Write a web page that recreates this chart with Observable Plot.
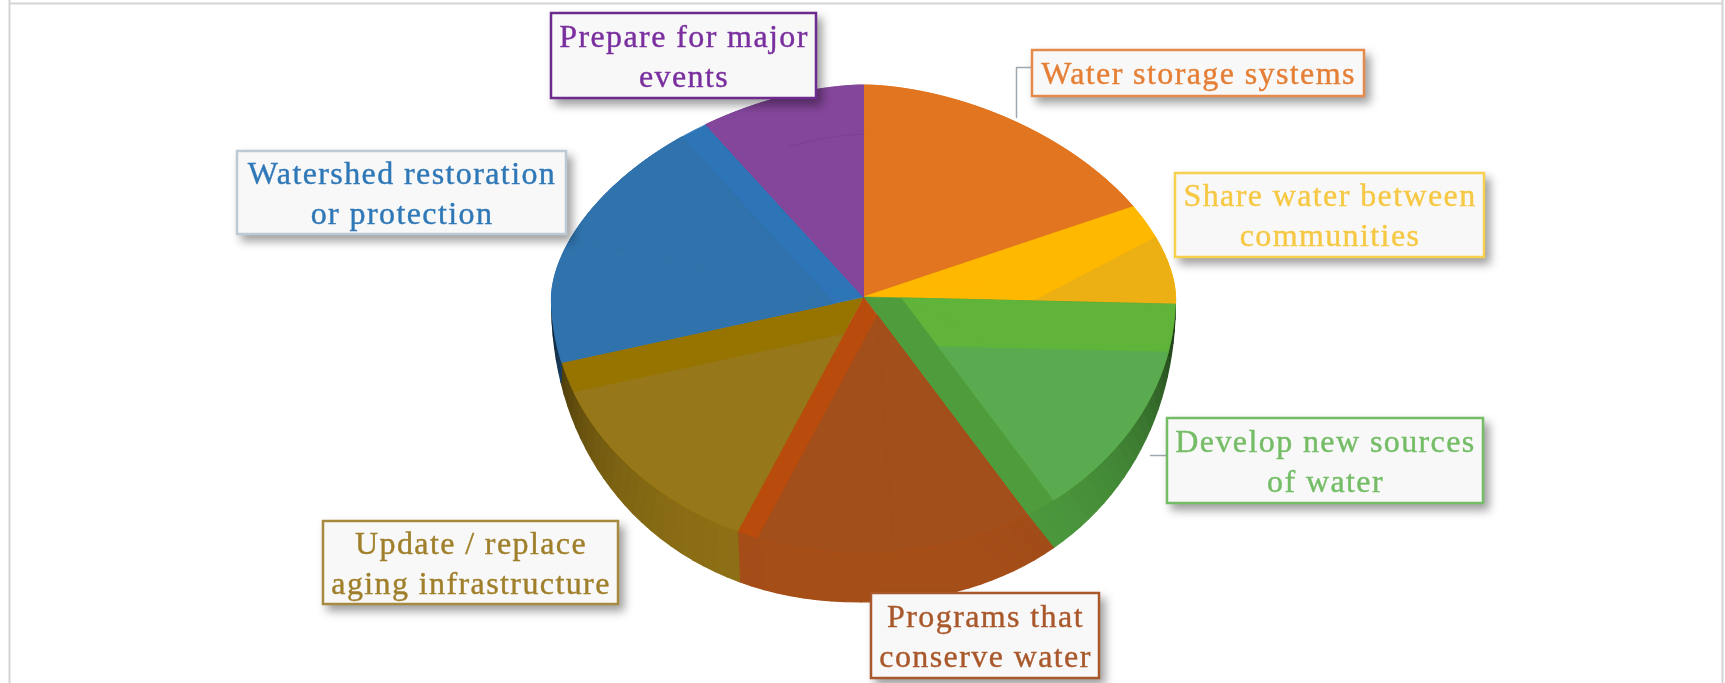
<!DOCTYPE html>
<html>
<head>
<meta charset="utf-8">
<script src="https://cdn.jsdelivr.net/npm/d3@7"></script>
<script src="https://cdn.jsdelivr.net/npm/@observablehq/plot@0.6"></script>
<style>
html,body{margin:0;padding:0;background:#fff;overflow:hidden}
svg{display:block}
svg text{letter-spacing:1.4px}
</style>
</head>
<body>
<div id="chart"></div>
<script>
// ---- data (share of the pie, clockwise from 12 o'clock)
const categories = [
  "Water storage systems",
  "Share water between\ncommunities",
  "Develop new sources\nof water",
  "Programs that\nconserve water",
  "Update / replace\naging infrastructure",
  "Watershed restoration\nor protection",
  "Prepare for major\nevents"
];
const shares = [17.14, 8.31, 15.75, 15.42, 14.28, 19.83, 9.28];

// ---- colours
const endBandColors = ["#e2751f", "#ffb800", "#4f9c3c", "#b94c0c", "#977400", "#2e75b8", "#7f4a98"];
const bandColors    = ["#e2751f", "#ffb800", "#60b43a", "#b94c0c", "#977400", "#2e75b8", "#7f4a98"];
const innerColors   = ["#e2751f", "#ecb014", "#5aab50", "#a34f1b", "#96781a", "#3072ab", "#84469a"];
const sideColors    = ["#e2751f", "#ecb014", "#4d9c3e", "#a64e18", "#8f7115", "#3072ab", "#84469a"];
const textColors    = ["#e57f35", "#f6c844", "#74bd66", "#a9582b", "#a07f2a", "#2f78b8", "#7a2f9f"];
const boxStrokes    = ["#e58a4a", "#f8d050", "#74bd66", "#a9582b", "#a58a40", "#bccad6", "#6d2a8f"];

// ---- layout (pixels in the picture)
const pie = {cx: 863.5, cy: 297, rx: 312, ryBack: 212, ryRim: 256, ryOuter: 305};
const backPower = 1.75, rimPower = 2, outerPower = 2.15;
const startInset = [0, 82, 48, 0, 0, 0, 0];
const startTilt  = [0, -0.157, 0, 0, 0, 0, 0];
const endInset   = [0, 0, 30, 21, 32, 26, 0];
const boxLeft   = [1032, 1175, 1167, 871, 323, 237, 551];
const boxRight  = [1364, 1484, 1483, 1099, 618, 566, 816];
const boxTop    = [50, 173, 418, 593, 521, 151, 13];
const boxBottom = [96, 257, 503, 678, 604, 234, 98];
const leaders = [
  {id: "a", pts: [[1032, 67], [1016, 67], [1016, 117]]},
  {id: "b", pts: [[1167, 455], [1150, 455]]}
];

// ---- geometry derived from the shares
const total = d3.sum(shares);
const edges = [0, ...d3.cumsum(shares).map(v => v / total * 2 * Math.PI)];
const apex = [pie.cx, pie.cy];
const spow = (v, e) => Math.sign(v) * Math.pow(Math.abs(v), e);
function rim(t, ryLow = pie.ryRim, powLow = rimPower) {
  const c = Math.cos(t), s = Math.sin(t);
  const p = c > 0 ? backPower : powLow;
  return [pie.cx + pie.rx * spow(s, 2 / p), pie.cy - (c > 0 ? pie.ryBack : ryLow) * spow(c, 2 / p)];
}
function arc(a, b) {
  const n = Math.max(2, Math.ceil((b - a) / 0.02));
  return d3.range(n + 1).map(i => rim(a + (b - a) * i / n));
}
// the wall leans with the view: its foot lags the rim on the front
function foot(t) {
  const lo = Math.PI / 2, hi = 225 * Math.PI / 180;
  const skew = t > lo && t < hi ? 0.075 * Math.sin(Math.PI * (t - lo) / (hi - lo)) : 0;
  return rim(t - skew, pie.ryOuter, outerPower);
}
function turn(p, angle) {
  const dx = p[0] - apex[0], dy = p[1] - apex[1], c = Math.cos(angle), s = Math.sin(angle);
  return [apex[0] + dx * c - dy * s, apex[1] + dx * s + dy * c];
}
function clipHalf(poly, a, b, inset, inside) {
  const dx = b[0] - a[0], dy = b[1] - a[1], L = Math.hypot(dx, dy);
  let nx = -dy / L, ny = dx / L;
  if ((inside[0] - a[0]) * nx + (inside[1] - a[1]) * ny < 0) { nx = -nx; ny = -ny; }
  const dist = p => (p[0] - a[0]) * nx + (p[1] - a[1]) * ny - inset;
  const out = [];
  poly.forEach((p, i) => {
    const q = poly[(i + 1) % poly.length], dp = dist(p), dq = dist(q);
    if (dp >= 0) out.push(p);
    if (dp * dq < 0) {
      const s = dp / (dp - dq);
      out.push([p[0] + (q[0] - p[0]) * s, p[1] + (q[1] - p[1]) * s]);
    }
  });
  return out;
}

const fanRows = [];
function addFan(id, color, poly) {
  const c = [d3.mean(poly, p => p[0]), d3.mean(poly, p => p[1])];
  [...poly, poly[0]].forEach(p => fanRows.push({id, color, x1: c[0], y1: c[1], x2: p[0], y2: p[1]}));
}
function shade(hex, k) {
  const c = d3.rgb(hex);
  return d3.rgb(c.r * k, c.g * k, c.b * k).formatHex();
}

// side wall of the pie, lower half only, darkening towards both ends
const sideRows = [];
shares.forEach((_, i) => {
  const a = Math.max(edges[i], Math.PI / 2), b = Math.min(edges[i + 1], 3 * Math.PI / 2);
  if (b <= a) return;
  const n = Math.ceil((b - a) / 0.04);
  d3.range(n).forEach(j => {
    const t0 = a + (b - a) * j / n, t1 = a + (b - a) * (j + 1) / n;
    const f = Math.abs((t0 + t1) / 2 - Math.PI) / (Math.PI / 2);
    const color = shade(sideColors[i], 1 - 0.8 * Math.pow(f, 3.2));
    const id = `s${i}-${j}`;
    [t0, t1].forEach(t => {
      const p = rim(t), q = foot(t);
      sideRows.push({id, color, x1: p[0], y1: p[1], x2: q[0], y2: q[1]});
    });
  });
});

// top faces: end band, start band, then the lighter inner part
shares.forEach((_, i) => {
  const a = edges[i], b = edges[i + 1];
  const poly = [apex, ...arc(a, b)];
  const mid = rim((a + b) / 2);
  addFan(`e${i}`, endBandColors[i], poly);
  let rest = poly;
  if (endInset[i]) rest = clipHalf(rest, apex, rim(b), endInset[i], mid);
  addFan(`t${i}`, bandColors[i], rest);
  let inner = rest;
  if (startInset[i]) inner = clipHalf(inner, apex, turn(rim(a), startTilt[i]), startInset[i], mid);
  addFan(`i${i}`, innerColors[i], inner);
});

// faint inner arc on the last slice
const lastArc = arc(edges[6], edges[7]).filter((_, i) => i > 10).map(p => ({
  x: pie.cx + (p[0] - pie.cx) * 0.77,
  y: pie.cy + (p[1] - pie.cy) * 0.77
}));

const boxes = categories.map((text, i) => ({
  text, x1: boxLeft[i], x2: boxRight[i], y1: boxTop[i], y2: boxBottom[i],
  xm: (boxLeft[i] + boxRight[i]) / 2, ym: (boxTop[i] + boxBottom[i]) / 2 - 2,
  color: textColors[i], edge: boxStrokes[i]
}));
const leaderRows = leaders.flatMap(l => l.pts.map(p => ({id: l.id, x: p[0], y: p[1]})));
const frameX = [9, 1722];
const frameY = [3];

const fanMark = (rows, w) => Plot.area(rows, {
  x1: "x1", y1: "y1", x2: "x2", y2: "y2", z: "id",
  fill: "color", stroke: "color", strokeWidth: w
});

const chart = Plot.plot({
  width: 1725, height: 683,
  marginTop: 0, marginRight: 0, marginBottom: 0, marginLeft: 0,
  x: {domain: [0, 1725], range: [0, 1725], axis: null},
  y: {domain: [0, 683], range: [0, 683], axis: null},
  color: {type: "identity"},
  style: {background: "#fff", filter: "blur(0.6px)"},
  marks: [
    Plot.ruleX(frameX, {stroke: "#d4d4d4", strokeWidth: 2}),
    Plot.ruleY(frameY, {x1: 9, x2: 1722, stroke: "#d4d4d4", strokeWidth: 2}),
    Plot.line(leaderRows, {x: "x", y: "y", z: "id", stroke: "#9fa8b0", strokeWidth: 1.5}),
    fanMark(sideRows, 1.2),
    fanMark(fanRows, 0.6),
    Plot.line(lastArc, {x: "x", y: "y", stroke: "#6f3f88", strokeWidth: 1.2, strokeOpacity: 0.5}),
    Plot.rect(boxes, {
      x1: "x1", x2: "x2", y1: "y1", y2: "y2",
      fill: "#f8f8f8", stroke: "edge", strokeWidth: 2.5,
      imageFilter: "drop-shadow(5px 6px 5px rgba(0,0,0,0.38))"
    }),
    Plot.text(boxes, {
      x: "xm", y: "ym", text: "text", fill: "color", stroke: "color", strokeWidth: 0.4,
      fontFamily: "'Liberation Serif', serif", fontSize: 32, lineHeight: 1.25,
      textAnchor: "middle", lineAnchor: "middle"
    })
  ]
});
document.getElementById("chart").appendChild(chart);
</script>
</body>
</html>
